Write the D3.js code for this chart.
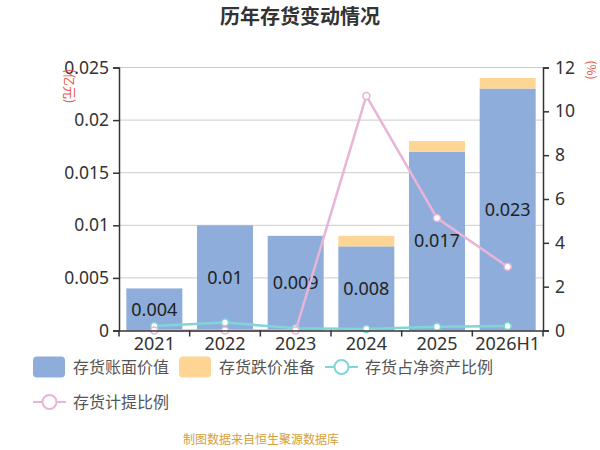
<!DOCTYPE html>
<html>
<head>
<meta charset="utf-8">
<script src="https://cdn.jsdelivr.net/npm/d3@7"></script>
<style>
  body { margin: 0; background: #fff; }
  text { font-family: "Noto Sans CJK SC", "Noto Sans", sans-serif; }
</style>
</head>
<body>
<div id="chart"></div>
<script>
// data
const years = ["2021", "2022", "2023", "2024", "2025", "2026H1"];
const bookValue = [0.004, 0.01, 0.009, 0.008, 0.017, 0.023];   // 存货账面价值 (亿元)
const reserve = [0, 0, 0, 0.001, 0.001, 0.001];                 // 存货跌价准备 (亿元)
const netAssetRatio = [0.2, 0.36, 0.1, 0.07, 0.17, 0.2];        // 存货占净资产比例 (%)
const provisionRatio = [0, 0, 0, 10.7, 5.13, 2.91];             // 存货计提比例 (%)
const leftTicks = [0, 0.005, 0.01, 0.015, 0.02, 0.025];
const rightTicks = [0, 2, 4, 6, 8, 10, 12];

const width = 600, height = 450;
const margin = { top: 67.5, right: 57, bottom: 119.5, left: 119 };
const innerW = width - margin.left - margin.right;
const innerH = height - margin.top - margin.bottom;

const colors = {
  book: "#8eadda",
  reserve: "#fed594",
  ratio: "#80d5d6",
  provision: "#e8b5d8"
};

const svg = d3.select("#chart").append("svg")
  .attr("width", width)
  .attr("height", height);

// title
svg.append("text")
  .attr("x", 300).attr("y", 24)
  .attr("text-anchor", "middle")
  .attr("font-size", 20).attr("font-weight", "bold")
  .attr("fill", "#333")
  .text("历年存货变动情况");

const g = svg.append("g").attr("transform", `translate(${margin.left},${margin.top})`);

const xPoint = d3.scaleBand().domain(years).range([0, innerW]);
const yLeft = d3.scaleLinear().domain([0, 0.025]).range([innerH, 0]);
const yRight = d3.scaleLinear().domain([0, 12]).range([innerH, 0]);

// gridlines
g.append("g").selectAll("line")
  .data(leftTicks.slice(1))
  .enter().append("line")
  .attr("x1", 0).attr("x2", innerW)
  .attr("y1", d => yLeft(d)).attr("y2", d => yLeft(d))
  .attr("stroke", "#ccc").attr("stroke-width", 1);

// bars
const cx = d => xPoint(d) + xPoint.bandwidth() / 2;
const barW = 56;
g.append("g").selectAll("rect")
  .data(years)
  .enter().append("rect")
  .attr("x", d => cx(d) - barW / 2)
  .attr("width", barW)
  .attr("y", (d, i) => yLeft(bookValue[i]))
  .attr("height", (d, i) => innerH - yLeft(bookValue[i]))
  .attr("fill", colors.book);

g.append("g").selectAll("rect")
  .data(years)
  .enter().append("rect")
  .attr("x", d => cx(d) - barW / 2)
  .attr("width", barW)
  .attr("y", (d, i) => yLeft(bookValue[i] + reserve[i]))
  .attr("height", (d, i) => yLeft(bookValue[i]) - yLeft(bookValue[i] + reserve[i]))
  .attr("fill", colors.reserve);

// bar labels
g.append("g").selectAll("text")
  .data(years)
  .enter().append("text")
  .attr("x", d => cx(d))
  .attr("y", (d, i) => (yLeft(bookValue[i]) + innerH) / 2)
  .attr("dy", "0.35em")
  .attr("text-anchor", "middle")
  .attr("font-size", 18)
  .attr("fill", "#222")
  .style("font-family", "'Noto Sans', sans-serif")
  .text((d, i) => bookValue[i]);

// lines
function drawLine(values, color) {
  const line = d3.line()
    .x((d, i) => cx(years[i]))
    .y(d => yRight(d));
  g.append("path")
    .datum(values)
    .attr("d", line)
    .attr("fill", "none")
    .attr("stroke", color)
    .attr("stroke-width", 2.5);
  g.append("g").selectAll("circle")
    .data(values)
    .enter().append("circle")
    .attr("cx", (d, i) => cx(years[i]))
    .attr("cy", d => yRight(d))
    .attr("r", 3.5)
    .attr("fill", "#fff")
    .attr("stroke", color)
    .attr("stroke-width", 1.5);
}
drawLine(netAssetRatio, colors.ratio);
drawLine(provisionRatio, colors.provision);

// axes
const axisLeft = d3.axisLeft(yLeft).tickValues(leftTicks).tickSize(6).tickPadding(4)
  .tickFormat(d => d3.format("")(d));
const gl = g.append("g").call(axisLeft);
gl.select(".domain").attr("stroke", "#333").attr("stroke-width", 1.5);
gl.selectAll(".tick line").attr("stroke", "#333").attr("stroke-width", 1.5);
gl.selectAll(".tick text").attr("font-size", 17.5).attr("fill", "#333")
  .style("font-family", "'Noto Sans', sans-serif");

const axisRight = d3.axisRight(yRight).tickValues(rightTicks).tickSize(6).tickPadding(6);
const gr = g.append("g").attr("transform", `translate(${innerW},0)`).call(axisRight);
gr.select(".domain").attr("stroke", "#333").attr("stroke-width", 1.5);
gr.selectAll(".tick line").attr("stroke", "#333").attr("stroke-width", 1.5);
gr.selectAll(".tick text").attr("font-size", 17.5).attr("fill", "#333")
  .style("font-family", "'Noto Sans', sans-serif");

const axisBottom = d3.axisBottom(xPoint).tickSize(0).tickPadding(7);
const gb = g.append("g").attr("transform", `translate(0,${innerH})`).call(axisBottom);
gb.select(".domain").attr("stroke", "#333").attr("stroke-width", 1.5);
gb.selectAll(".tick text").attr("font-size", 18).attr("fill", "#333")
  .style("font-family", "'Noto Sans', sans-serif");
// boundary ticks between categories
gb.append("g").selectAll("line")
  .data(years.concat(["end"]))
  .enter().append("line")
  .attr("x1", (d, i) => i * xPoint.bandwidth())
  .attr("x2", (d, i) => i * xPoint.bandwidth())
  .attr("y1", 0).attr("y2", 6)
  .attr("stroke", "#333").attr("stroke-width", 1.5);

// unit labels
svg.append("text")
  .attr("transform", "translate(70,86) rotate(90)")
  .attr("text-anchor", "middle")
  .attr("dy", "0.35em")
  .attr("font-size", 13)
  .attr("fill", "#e2584a")
  .text("(亿元)");
svg.append("text")
  .attr("transform", "translate(591,70) rotate(90)")
  .attr("text-anchor", "middle")
  .attr("dy", "0.35em")
  .attr("font-size", 12)
  .attr("fill", "#e2584a")
  .text("(%)");

// legend
const legendItems = [
  { name: "存货账面价值", type: "rect", color: colors.book, x: 33, y: 367 },
  { name: "存货跌价准备", type: "rect", color: colors.reserve, x: 179, y: 367 },
  { name: "存货占净资产比例", type: "line", color: colors.ratio, x: 325, y: 367 },
  { name: "存货计提比例", type: "line", color: colors.provision, x: 33, y: 402 }
];
const legend = svg.append("g");
legendItems.forEach(item => {
  const lg = legend.append("g").attr("transform", `translate(${item.x},${item.y})`);
  if (item.type === "rect") {
    lg.append("rect")
      .attr("x", 0).attr("y", -10.5)
      .attr("width", 32).attr("height", 21)
      .attr("rx", 4)
      .attr("fill", item.color);
  } else {
    lg.append("line")
      .attr("x1", 0).attr("x2", 33)
      .attr("y1", 0).attr("y2", 0)
      .attr("stroke", item.color).attr("stroke-width", 2);
    lg.append("circle")
      .attr("cx", 16.5).attr("cy", 0).attr("r", 7)
      .attr("fill", "#fff")
      .attr("stroke", item.color).attr("stroke-width", 2);
  }
  lg.append("text")
    .attr("x", 40).attr("y", 0)
    .attr("dy", "0.35em")
    .attr("font-size", 16)
    .attr("fill", "#555")
    .text(item.name);
});

// footer
svg.append("text")
  .attr("x", 261).attr("y", 440)
  .attr("dy", "0.35em")
  .attr("text-anchor", "middle")
  .attr("font-size", 12)
  .attr("fill", "#d4a03a")
  .text("制图数据来自恒生聚源数据库");
</script>
</body>
</html>
